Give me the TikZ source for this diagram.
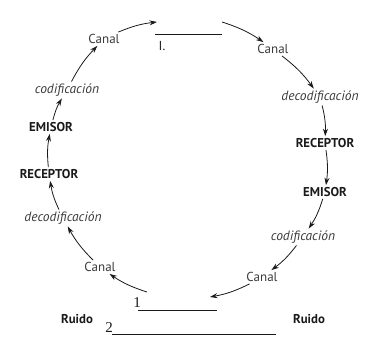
\documentclass[tikz,border=0pt]{standalone}
\usepackage{fontspec}
\setmainfont{PT Sans}
\newfontfamily\numfont{Liberation Serif}
\usetikzlibrary{arrows.meta}
\definecolor{txt}{HTML}{3A3A3A}
\definecolor{ink}{HTML}{1A1A1A}
\begin{document}
\begin{tikzpicture}[x=1pt,y=-1pt,
  lbl/.style={font=\fontsize{13}{15}\selectfont, text=txt, inner sep=2pt},
  ital/.style={font=\fontsize{13.5}{15}\selectfont\itshape, text=txt, inner sep=2pt},
  bld/.style={font=\fontsize{12.8}{15}\selectfont\bfseries, text=ink, inner sep=2pt},
  num/.style={font=\fontsize{13}{14}\selectfont, text=ink, inner sep=0pt},
  numsf/.style={font=\fontsize{15}{16}\selectfont\numfont, text=ink, inner sep=0pt},
  arr/.style={draw=ink, line width=0.8pt, -{Stealth[length=7.5pt,width=5pt]}, bend left=8},
  bar/.style={draw=ink, line width=0.9pt}]
\useasboundingbox (0,0) rectangle (378,356);
% left side (going up)
\node[lbl] (c1) at (104,39) {Canal};
\node[ital] (cod1) at (67,90) {codificación};
\node[bld] (em1) at (51,127) {EMISOR};
\node[bld] (rec1) at (49,174) {RECEPTOR};
\node[ital] (dec1) at (63,218) {decodificación};
\node[lbl] (c4) at (100,267) {Canal};
% right side (going down)
\node[lbl] (c2) at (273,49) {Canal};
\node[ital] (dec2) at (320,97) {decodificación};
\node[bld] (rec2) at (325,143) {RECEPTOR};
\node[bld] (em2) at (325,192) {EMISOR};
\node[ital] (cod2) at (303,237) {codificación};
\node[lbl] (c3) at (262,277) {Canal};
% bars and labels
\coordinate (t1) at (155,34);
\coordinate (t2) at (222,34);
\draw[bar] (t1) -- (t2);
\node[num] (n1) at (162,46) {I.};
\coordinate (b1) at (138,310);
\coordinate (b2) at (217,310);
\draw[bar] (b1) -- (b2);
\node[numsf] (m1) at (137,303) {1};
\coordinate (d1) at (112,334);
\coordinate (d2) at (276,334);
\draw[bar] (d1) -- (d2);
\node[numsf] (m2) at (109,328) {2};
\node[bld] (r1) at (77,319) {Ruido};
\node[bld] (r2) at (309,319) {Ruido};
% arrow free ends
\coordinate (te) at (157,22);
\coordinate (ts) at (222,22);
\coordinate (be) at (210,297);
\coordinate (bs) at (147,292);
% arrows
\draw[arr] (c1) to (te);
\draw[arr] (ts) to (c2);
\draw[arr] (c2) to (dec2);
\draw[arr] (dec2) to (rec2);
\draw[arr] (rec2) to (em2);
\draw[arr] (em2) to (cod2);
\draw[arr] (cod2) to (c3);
\draw[arr] (c3) to (be);
\draw[arr] (bs) to (c4);
\draw[arr] (c4) to (dec1);
\draw[arr] (dec1) to (rec1);
\draw[arr] (rec1) to (em1);
\draw[arr] (em1) to (cod1);
\draw[arr] (cod1) to (c1);
\end{tikzpicture}
\end{document}
